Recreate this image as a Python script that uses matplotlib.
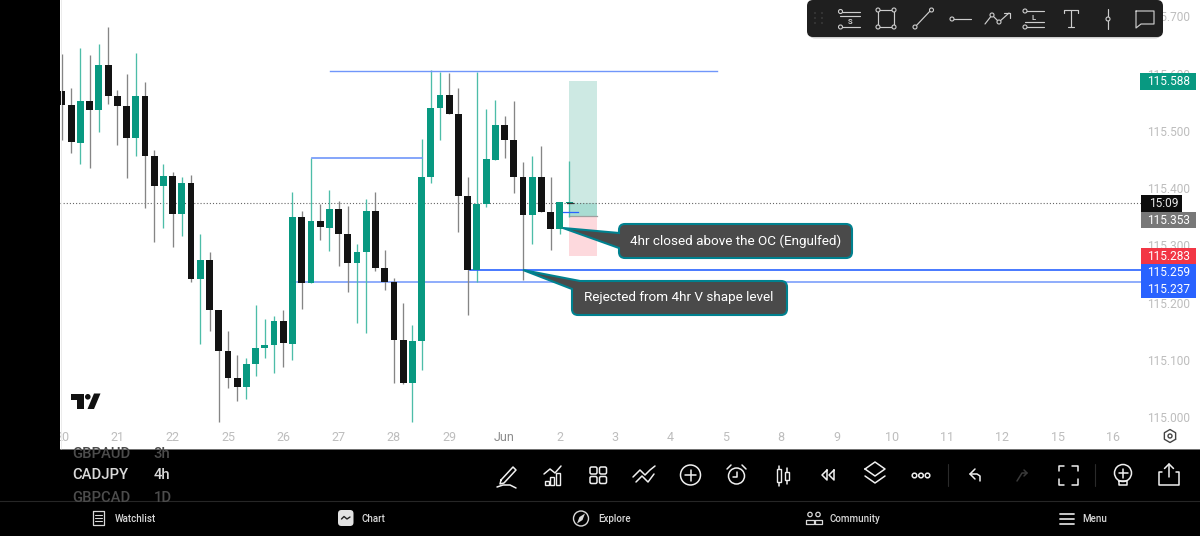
import numpy as np
import matplotlib
matplotlib.use("Agg")
import matplotlib.pyplot as plt
from matplotlib.patches import Rectangle, Circle, FancyBboxPatch, PathPatch, Polygon
from matplotlib.path import Path

plt.rcParams["font.family"] = ["Roboto", "DejaVu Sans"]

# 4h candles, oldest first
opens = [115.571, 115.546, 115.480, 115.553, 115.538, 115.616, 115.562, 115.545, 115.489, 115.562,
         115.457, 115.405, 115.422, 115.356, 115.410, 115.243, 115.276, 115.188, 115.117, 115.070,
         115.054, 115.094, 115.122, 115.127, 115.169, 115.129, 115.351, 115.236, 115.344, 115.332,
         115.365, 115.321, 115.271, 115.290, 115.361, 115.262, 115.237, 115.136, 115.061, 115.134,
         115.421, 115.541, 115.564, 115.531, 115.387, 115.258, 115.373, 115.450, 115.511, 115.485,
         115.421, 115.354, 115.421, 115.360, 115.330, 115.375]
highs = [115.635, 115.576, 115.646, 115.634, 115.653, 115.682, 115.572, 115.600, 115.637, 115.586,
         115.468, 115.443, 115.429, 115.421, 115.424, 115.321, 115.290, 115.188, 115.152, 115.110,
         115.105, 115.197, 115.173, 115.178, 115.188, 115.394, 115.361, 115.454, 115.373, 115.398,
         115.379, 115.370, 115.304, 115.382, 115.394, 115.293, 115.244, 115.201, 115.162, 115.487,
         115.607, 115.604, 115.602, 115.576, 115.421, 115.604, 115.539, 115.555, 115.527, 115.553,
         115.447, 115.457, 115.475, 115.421, 115.377, 115.449]
lows = [115.485, 115.462, 115.443, 115.436, 115.499, 115.548, 115.476, 115.419, 115.457, 115.366,
        115.307, 115.332, 115.298, 115.318, 115.237, 115.129, 115.152, 114.993, 115.052, 115.030,
        115.033, 115.073, 115.105, 115.079, 115.089, 115.101, 115.190, 115.236, 115.311, 115.291,
        115.265, 115.220, 115.166, 115.148, 115.257, 115.223, 115.061, 115.059, 114.993, 115.084,
        115.410, 115.485, 115.531, 115.325, 115.180, 115.237, 115.368, 115.450, 115.454, 115.393,
        115.241, 115.304, 115.360, 115.293, 115.321, 115.351]
closes = [115.546, 115.482, 115.553, 115.538, 115.616, 115.562, 115.545, 115.489, 115.562, 115.457,
          115.405, 115.422, 115.356, 115.410, 115.243, 115.276, 115.188, 115.117, 115.070, 115.054,
          115.094, 115.122, 115.127, 115.169, 115.131, 115.351, 115.236, 115.344, 115.333, 115.365,
          115.321, 115.271, 115.290, 115.361, 115.262, 115.237, 115.136, 115.061, 115.134, 115.421,
          115.541, 115.564, 115.531, 115.387, 115.258, 115.373, 115.452, 115.511, 115.485, 115.421,
          115.354, 115.421, 115.360, 115.330, 115.377, 115.375]

day_labels = ["20", "21", "22", "25", "26", "27", "28", "29", "Jun", "2",
              "3", "4", "5", "8", "9", "10", "11", "12", "15", "16"]
price_ticks = [115.0, 115.1, 115.2, 115.3, 115.4, 115.5, 115.6, 115.7]

# drawn levels and the long position tool
level_high = 115.606
level_mid = 115.454
level_v_strong = 115.259
level_v_weak = 115.237
last_price = 115.375
entry_price = 115.353
target_price = 115.588
stop_price = 115.283
countdown = "15:09"

GREEN = "#089981"
BLACK = "#131313"
BLUE = "#2962ff"
LIGHT_BLUE = "#7096fa"
AXIS_GREY = "#bdbdbd"
ICON = "#e6e6e6"

W, H = 1200, 536
fig = plt.figure(figsize=(W / 100, H / 100), dpi=100, facecolor="black")

# price pane
ax = fig.add_axes([60 / W, (H - 449) / H, 1140 / W, 449 / H], facecolor="white")
ax.set_xlim(-0.217, 123.43)
ax.set_ylim(114.9459, 115.7295)
ax.axis("off")
ax.add_patch(Rectangle((0, 0), 1, 1, transform=ax.transAxes, fc="white", ec="none", zorder=0))
edge = ax.get_yaxis_transform()

x = np.arange(len(opens))
for i in x:
    up = closes[i] >= opens[i]
    wick = "#4dbda8" if up else "#858585"
    body = GREEN if up else BLACK
    ax.plot([i, i], [lows[i], highs[i]], color=wick, lw=0.95, solid_capstyle="butt", zorder=3)
    top, bottom = max(opens[i], closes[i]), min(opens[i], closes[i])
    ax.bar(i, max(top - bottom, 0.0012), bottom=bottom, width=0.74, color=body, zorder=4)

# position tool
pos_left, pos_right = 55, 58
ax.add_patch(Rectangle((pos_left, entry_price), pos_right - pos_left, target_price - entry_price,
                       fc="#cde9e3", ec="none", zorder=2))
ax.add_patch(Rectangle((pos_left, entry_price), pos_right - pos_left, last_price - entry_price,
                       fc="#a9dcd2", ec="none", zorder=2.1))
ax.add_patch(Rectangle((pos_left, stop_price), pos_right - pos_left, entry_price - stop_price,
                       fc="#fdd9dd", ec="none", zorder=2))
ax.plot([pos_left, pos_right], [entry_price, entry_price], color="#9f9f9f", lw=0.9, zorder=2.2)
ax.plot([54.3, 56.0], [115.360, 115.360], color=BLUE, lw=0.9, zorder=5)
ax.plot([54.8, 55.4], [last_price, last_price], color="#333333", lw=0.9, zorder=5)

# horizontal levels
ax.plot([29.07, 71.04], [level_high] * 2, color=LIGHT_BLUE, lw=1.0, zorder=3)
ax.plot([27.1, 39], [level_mid] * 2, color=LIGHT_BLUE, lw=1.2, zorder=3)
ax.plot([25.5, 117.0], [level_v_weak] * 2, color=LIGHT_BLUE, lw=1.1, zorder=2.5)
ax.plot([44.2, 117.0], [level_v_strong] * 2, color=BLUE, lw=1.2, zorder=3.5)
ax.plot([-0.2, 117.0], [last_price] * 2, color="#666666", lw=0.8, ls=(0, (1, 1.8)), zorder=2.6)

# axis labels
for p in price_ticks:
    ax.annotate(f"{p:.3f}", (0.991, p), xycoords=edge, xytext=(0, -0.6), textcoords="offset points",
                ha="right", va="center", color=AXIS_GREY, fontsize=8.6, zorder=1)
for n, lab in enumerate(day_labels):
    ax.text(n * 6, 114.9665, lab, ha="center", va="center", fontsize=9, clip_on=True,
            color="#8c8c8c" if lab == "Jun" else AXIS_GREY, zorder=1)

# everything else is laid out in screen pixels
ui = fig.add_axes([0, 0, 1, 1], facecolor="none")
ui.set_xlim(0, W)
ui.set_ylim(H, 0)
ui.axis("off")


def line(xs, ys, color=ICON, lw=1.1, z=10, **kw):
    ui.plot(xs, ys, color=color, lw=lw, zorder=z, solid_capstyle="round",
            solid_joinstyle="round", **kw)


def ring(cx, cy, r, color=ICON, lw=1.0, face="none", z=11):
    ui.add_patch(Circle((cx, cy), r, fc=face, ec=color, lw=lw, zorder=z))


def badge(x0, x1, y0, y1, color, text, text_color="white"):
    ui.add_patch(Rectangle((x0, y0), x1 - x0, y1 - y0, fc=color, ec="none", zorder=6))
    ui.text(1190.5, (y0 + y1) / 2 + 0.3, text, ha="right", va="center", color=text_color,
            fontsize=8.6, zorder=7)


badge(1140, 1195.5, 73, 90, GREEN, f"{target_price:.3f}")
ui.add_patch(Rectangle((1141, 195), 41, 17, fc="#0c0c0c", ec="none", zorder=6))
ui.text(1149, 203.5, countdown, ha="left", va="center", color="#e8e8e8", fontsize=8.6, zorder=7)
badge(1141, 1195.5, 212, 228, "#787878", f"{entry_price:.3f}")
badge(1141, 1195.5, 248, 264, "#f23645", f"{stop_price:.3f}")
badge(1141, 1195.5, 264, 281, BLUE, f"{level_v_strong:.3f}")
badge(1141, 1195.5, 281, 298, BLUE, f"{level_v_weak:.3f}")

# callouts
M, L, C, Z = Path.MOVETO, Path.LINETO, Path.CURVE3, Path.CLOSEPOLY
bubble_a = [((625, 224), M), ((846, 224), L), ((852, 224), C), ((852, 230), C), ((852, 252), L),
            ((852, 258), C), ((846, 258), C), ((625, 258), L), ((619, 258), C), ((619, 252), C),
            ((619, 248), L), ((563, 228), L), ((619, 233), L), ((619, 230), L), ((619, 224), C),
            ((625, 224), C), ((625, 224), Z)]
bubble_b = [((580, 281), M), ((781, 281), L), ((787, 281), C), ((787, 287), C), ((787, 309), L),
            ((787, 315), C), ((781, 315), C), ((578, 315), L), ((572, 315), C), ((572, 309), C),
            ((572, 289), L), ((523, 270), L), ((580, 281), L), ((580, 281), Z)]
for shape in (bubble_a, bubble_b):
    ui.add_patch(PathPatch(Path([s[0] for s in shape], [s[1] for s in shape]),
                           fc="#4a4a4a", ec="#00818f", lw=1.5, zorder=8))
ui.text(735.5, 241, "4hr closed above the OC (Engulfed)", ha="center", va="center",
        color="white", fontsize=9.7, zorder=9)
ui.text(679, 297, "Rejected from 4hr V shape level", ha="center", va="center",
        color="white", fontsize=9.7, zorder=9)

# logo
ui.add_patch(Polygon([(71, 393.5), (83.5, 393.5), (83.5, 409), (76.5, 409), (76.5, 400), (71, 400)],
                     fc="#111111", ec="none", zorder=5))
ui.add_patch(Circle((87.8, 396.8), 2.8, fc="#111111", ec="none", zorder=5))
ui.add_patch(Polygon([(87.5, 409), (94, 393.5), (100.5, 393.5), (94, 409)],
                     fc="#111111", ec="none", zorder=5))

# left edge of the pane
ui.plot([60.5, 60.5], [0, 449], color="#ececec", lw=0.7, zorder=2)

# settings icon on the time axis
hx = 1170 + 6.5 * np.cos(np.radians(np.arange(30, 391, 60)))
hy = 436 + 6.5 * np.sin(np.radians(np.arange(30, 391, 60)))
line(hx, hy, color="#444444", lw=1.0)
ring(1170, 436, 2, color="#444444")

# floating drawing toolbar
ui.add_patch(FancyBboxPatch((809, 2), 352, 36.5, boxstyle="round,pad=0,rounding_size=6",
                            fc="#00000030", ec="none", zorder=11.5))
ui.add_patch(FancyBboxPatch((807, 0), 356, 37, boxstyle="round,pad=0,rounding_size=6",
                            fc="#1f1f1f", ec="none", zorder=12))
TB = 13
TB_INK = "#cdcdcd"
for gx in (815, 822):
    for gy in (13, 18, 23):
        ui.add_patch(Circle((gx, gy), 0.7, fc="#555555", ec="none", zorder=TB))


def tb_line(xs, ys):
    line(xs, ys, color=TB_INK, lw=0.85, z=TB)


def tb_ring(cx, cy):
    ring(cx, cy, 2.0, color=TB_INK, lw=0.8, face="#1f1f1f", z=TB + 1)


tb_line([840, 860], [11.5, 11.5]); tb_line([840, 860], [16, 16]); tb_line([840, 860], [27, 27])
tb_ring(840.5, 11.5); tb_ring(840.5, 27)
ui.text(850, 22, "S", ha="center", va="center", color=TB_INK, fontsize=5.5, weight="bold", zorder=TB)
tb_line([878, 894, 894, 878, 878], [10, 10, 27, 27, 10])
for cx, cy in [(878, 10), (894, 10), (878, 27), (894, 27)]:
    tb_ring(cx, cy)
tb_line([915, 931], [27, 10]); tb_ring(915, 27); tb_ring(931.5, 10)
tb_line([952, 971], [19, 19]); tb_ring(952, 19)
tb_line([985, 992, 999, 1009], [24, 15, 22, 13]); tb_ring(992, 15); tb_ring(999, 22)
tb_line([1004, 1009.5, 1009.5], [13, 13, 18])
tb_line([1025, 1044], [11, 11]); tb_line([1025, 1044], [22, 22]); tb_line([1025, 1044], [27, 27])
tb_ring(1025, 11); tb_ring(1025, 27)
ui.text(1034, 17, "L", ha="center", va="center", color=TB_INK, fontsize=5.5, weight="bold", zorder=TB)
tb_line([1064, 1064, 1078, 1078], [13, 10, 10, 13]); tb_line([1071, 1071], [10, 27]); tb_line([1068, 1074], [27, 27])
tb_line([1108, 1108], [9, 29]); tb_ring(1108, 19)
tb_line([1136, 1154, 1154, 1141, 1136, 1136], [11, 11, 24, 24, 28, 11])

# left symbol picker, wheel rows are cut by the pane and the separator
picker = Rectangle((60, 450), 120, 51, transform=ui.transData)
for y, sym, tf, col in [(453.5, "GBPAUD", "3h", "#4c4c4c"), (475, "CADJPY", "4h", "#d9d9d9"),
                        (498.5, "GBPCAD", "1D", "#4c4c4c")]:
    t1 = ui.text(72.5, y, sym, ha="left", va="center", color=col, fontsize=10.6, weight="medium", zorder=3)
    t2 = ui.text(153.5, y, tf, ha="left", va="center", color=col, fontsize=10.6, weight="medium", zorder=3)
    t1.set_clip_path(picker)
    t2.set_clip_path(picker)

ui.plot([0, W], [501, 501], color="#262626", lw=0.8, zorder=2)
ui.plot([60, W], [449, 449], color="#888888", lw=0.6, zorder=2)

# bottom toolbar row
BAR = "#efefef"
line([501, 513, 516, 504, 500, 501], [480, 467, 470, 483, 484, 480], color=BAR)
line([497, 503, 510, 516], [487, 485, 485, 488], color=BAR)
line([544, 550, 555, 561], [474, 469, 473, 466], color=BAR)
for bx, by in [(544.5, 481), (550, 477), (555.5, 473)]:
    ui.add_patch(Rectangle((bx, by), 4.2, 484.5 - by, fc="none", ec=BAR, lw=1.0, zorder=10))
for gx in (593.5, 603):
    for gy in (470.5, 480):
        ui.add_patch(FancyBboxPatch((gx - 3.5, gy - 3.5), 7, 7, boxstyle="round,pad=0,rounding_size=1.6",
                                    fc="none", ec=BAR, lw=1.1, zorder=10))
line([633, 640, 645, 650, 655], [477, 470, 475, 470, 466], color=BAR)
line([636, 642, 648, 654], [482, 476, 482, 474], color=BAR)
ring(690.5, 475, 10, color=BAR, lw=1.1)
line([685, 696], [475, 475], color=BAR); line([690.5, 690.5], [469.5, 480.5], color=BAR)
ring(736.5, 476, 8, color=BAR, lw=1.1)
line([736.5, 736.5, 733], [471.5, 477, 477], color=BAR)
line([727, 731], [469, 465], color=BAR); line([742, 746], [465, 469], color=BAR)
for cx, y0, y1, t, b in [(779, 466, 486, 469, 482), (787, 468, 484, 472, 480)]:
    line([cx, cx], [y0, y1], color=BAR)
    ui.add_patch(Rectangle((cx - 2, t), 4, b - t, fc="black", ec=BAR, lw=1.0, zorder=11))
line([827, 822, 827, 827], [470, 475, 480, 470], color=BAR)
line([834, 829, 834, 834], [470, 475, 480, 470], color=BAR)
line([865, 875, 885, 875, 865], [469, 462, 469, 476, 469], color=BAR)
line([865, 875, 885], [476, 483, 476], color=BAR)
for ox in (914.5, 921, 927.5):
    ring(ox, 475.5, 2.3, color=BAR, lw=1.1)
line([948, 948], [464, 486], color="#2a2a2a", lw=0.8)
line([975, 970, 975], [469, 474, 479], color=BAR)
line([970, 977, 980, 980], [474, 474, 476, 481], color=BAR)
line([1017, 1022, 1027], [481, 473, 473], color="#3a3a3a")
line([1024, 1027, 1024], [470, 473, 476], color="#3a3a3a")
for sx, sy in [(1, 1), (1, -1), (-1, 1), (-1, -1)]:
    line([1068 + 9.5 * sx, 1068 + 9.5 * sx, 1068 + 4 * sx],
         [475 + 4 * sy, 475 + 9.5 * sy, 475 + 9.5 * sy], color=BAR)
line([1095, 1095], [464, 486], color="#2a2a2a", lw=0.8)
ring(1123, 473, 8.5, color=BAR, lw=1.1)
line([1118.5, 1127.5], [473, 473], color=BAR); line([1123, 1123], [468.5, 477.5], color=BAR)
line([1119, 1119, 1127, 1127, 1119], [481, 485, 485, 481, 481], color=BAR)
line([1162, 1159, 1159, 1179, 1179, 1176], [472, 472, 485, 485, 472, 472], color=BAR)
line([1169, 1169], [477, 464], color=BAR)
line([1164.5, 1169, 1173.5], [468.5, 464, 468.5], color=BAR)

# bottom navigation
NAV = "#d8d8d8"
for lx, lab in [(115, "Watchlist"), (362, "Chart"), (598, "Explore"),
                (830, "Community"), (1082, "Menu")]:
    ui.text(lx, 518.5, lab, ha="left", va="center", color=NAV, fontsize=7.0, weight="medium")
line([92.5, 92.5, 104, 104, 98.2, 92.5], [511, 525, 525, 511, 511, 511], color=NAV, lw=0.9)
for ly in (515, 518, 521):
    line([95, 101.5], [ly, ly], color=NAV, lw=0.8)
ui.add_patch(FancyBboxPatch((338, 510), 15.5, 16, boxstyle="round,pad=0,rounding_size=3.5",
                            fc="#e2e2e2", ec="none", zorder=10))
line([341.5, 344, 347, 350], [519, 516.5, 519, 517], color="#222222", lw=1.0, z=11)
ring(581, 518.5, 7.5, color=NAV, lw=1.0)
ui.add_patch(Polygon([(585, 513.5), (582.5, 520), (577, 523.5), (579.5, 517)], fc=NAV, ec="none", zorder=11))
ring(810, 514.5, 2.2, color=NAV, lw=0.9); ring(818, 514.5, 2.2, color=NAV, lw=0.9)
line([806, 806, 814, 814, 806], [524, 520, 520, 524, 524], color=NAV, lw=0.9)
line([815, 815, 822, 822, 815], [524, 520, 520, 524, 524], color=NAV, lw=0.9)
for ly in (513.5, 518.5, 523.5):
    line([1059.5, 1073.5], [ly, ly], color=NAV, lw=1.3)

fig.savefig("out.png", dpi=100, facecolor=fig.get_facecolor())
